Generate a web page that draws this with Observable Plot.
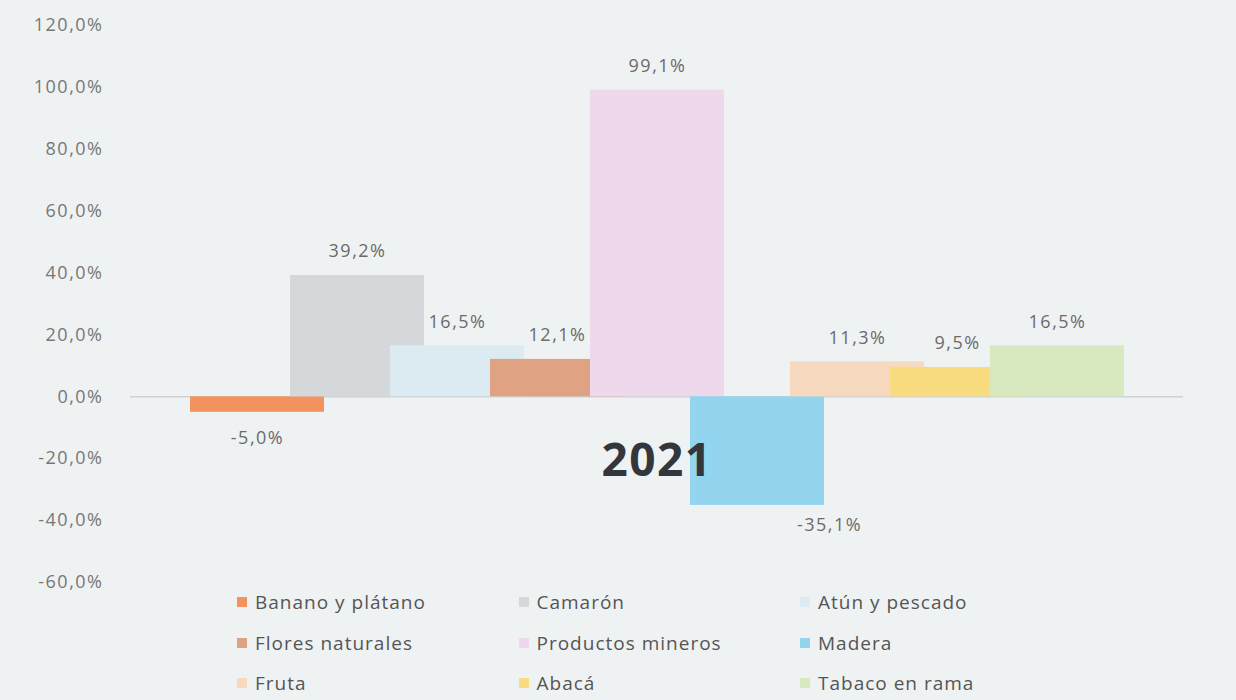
<!DOCTYPE html>
<html>
<head>
<meta charset="utf-8">
<script src="https://cdn.jsdelivr.net/npm/d3@7"></script>
<script src="https://cdn.jsdelivr.net/npm/@observablehq/plot@0.6"></script>
<style>
  html, body { margin: 0; padding: 0; background: #eff2f3; }
  #wrap { position: relative; width: 1236px; height: 700px; overflow: hidden; font-family: "Open Sans", sans-serif; }
  #chart svg { display: block; }
  .leg { position: absolute; display: flex; align-items: center; font-size: 19px; letter-spacing: 1px; color: #555; white-space: nowrap; }
  .leg .sw { width: 10px; height: 10px; margin-right: 8px; }
</style>
</head>
<body>
<div id="wrap">
  <div id="chart"></div>
  <div id="legend"></div>
</div>
<script>
const categories = ["Banano y plátano", "Camarón", "Atún y pescado", "Flores naturales", "Productos mineros", "Madera", "Fruta", "Abacá", "Tabaco en rama"];
const values = [-5.0, 39.2, 16.5, 12.1, 99.1, -35.1, 11.3, 9.5, 16.5];
const colors = ["#f2925c", "#d4d8da", "#dcebf1", "#dfa283", "#eed9ec", "#93d5ef", "#f7d9bf", "#f9dc80", "#d8e9c0"];
const yTicks = [-60, -40, -20, 0, 20, 40, 60, 80, 100, 120];
const yearLabel = "2021";

const fmt = d => d.toFixed(1).replace(".", ",") + "%";
const data = categories.map((c, i) => ({cat: c, value: values[i]}));

const chart = Plot.plot({
  width: 1236,
  height: 592,
  marginTop: 25,
  marginBottom: 10,
  marginLeft: 130,
  marginRight: 53,
  style: {background: "transparent", fontFamily: "Open Sans", fontSize: "18px", color: "#777", letterSpacing: "1.5px"},
  x: {domain: categories, paddingInner: 0, paddingOuter: 0.718, axis: null},
  y: {domain: [-60, 120]},
  color: {domain: categories, range: colors},
  marks: [
    Plot.axisY(yTicks, {tickFormat: fmt, tickSize: 0, tickPadding: 27, label: null, fill: "#777", fontSize: 18}),
    Plot.ruleY([0], {stroke: "#cdd1d4", strokeWidth: 1.5}),
    Plot.barY(data, {x: "cat", y: "value", fill: "cat", insetLeft: -17, insetRight: -17}),
    Plot.text(data.filter(d => d.value >= 0), {x: "cat", y: "value", text: d => fmt(d.value), dy: -24, fill: "#6b6b6b", fontSize: 18}),
    Plot.text(data.filter(d => d.value < 0 && d.value > -20), {x: "cat", y: "value", text: d => fmt(d.value), dy: 26, fill: "#6b6b6b", fontSize: 18}),
    Plot.text(data.filter(d => d.value <= -20), {x: "cat", y: "value", text: d => fmt(d.value), dy: 20, dx: 72, fill: "#6b6b6b", fontSize: 18}),
    Plot.text([yearLabel], {frameAnchor: "middle", text: d => d, dy: 157, fontSize: 46, fontWeight: "bold", fill: "#33363b"})
  ]
});
document.getElementById("chart").appendChild(chart);

const legend = document.getElementById("legend");
categories.forEach((c, i) => {
  const row = Math.floor(i / 3), col = i % 3;
  const el = document.createElement("div");
  el.className = "leg";
  el.style.left = (237 + col * 281.5) + "px";
  el.style.top = (589 + row * 40.5) + "px";
  el.style.height = "26px";
  const sw = document.createElement("div");
  sw.className = "sw";
  sw.style.background = colors[i];
  const tx = document.createElement("span");
  tx.textContent = c;
  el.appendChild(sw);
  el.appendChild(tx);
  legend.appendChild(el);
});
</script>
</body>
</html>
